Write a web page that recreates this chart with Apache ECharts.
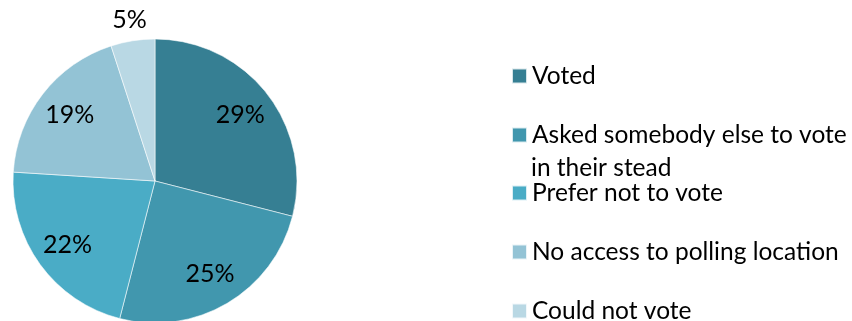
<!DOCTYPE html>
<html>
<head>
<meta charset="utf-8">
<script src="https://cdn.jsdelivr.net/npm/echarts@6/dist/echarts.min.js"></script>
<style>html,body{margin:0;padding:0;background:#fff}#c{width:852px;height:321px}</style>
</head>
<body>
<div id="c"></div>
<script>
const categories = ['Voted', 'Asked somebody else to vote', 'Prefer not to vote', 'No access to polling location', 'Could not vote'];
const values = [29, 25, 22, 19, 5];
const colors = ['#367f93', '#4197ae', '#4aacc6', '#93c3d5', '#b9d8e4'];
const continuationText = 'in their stead';

const FONT = 'Lato';
const chart = echarts.init(document.getElementById('c'), null, {renderer: 'canvas'});
const center = [155, 181];
const R = 142;

const mainData = categories.map((n, i) => ({name: n, value: values[i], itemStyle: {color: colors[i]}}));
const innerLabelData = categories.map((n, i) => ({name: n, value: values[i], label: {show: values[i] >= 10}}));
const outerLabelData = categories.map((n, i) => ({name: n, value: values[i], label: {show: values[i] < 10}}));

const labelStyle = {fontFamily: FONT, fontSize: 25, color: '#000', formatter: p => p.value + '%'};

const legendTops = [63, 122, 180, 239, 298];
const legends = categories.map((n, i) => ({
  orient: 'vertical',
  left: 511,
  top: legendTops[i],
  padding: 0,
  itemWidth: 15,
  itemHeight: 15,
  icon: 'rect',
  selectedMode: false,
  data: [n],
  textStyle: {fontFamily: FONT, fontSize: 24.5, color: '#000', lineHeight: 26}
}));

chart.setOption({
  animation: false,
  legend: legends,
  graphic: [{
    type: 'text',
    left: 531,
    top: 156,
    style: {text: continuationText, font: '24.5px ' + FONT, fill: '#000'}
  }],
  series: [
    {
      type: 'pie', center: center, radius: [0, R], startAngle: 90, clockwise: true,
      label: {show: false}, labelLine: {show: false},
      itemStyle: {borderColor: 'rgba(255,255,255,0.8)', borderWidth: 0.7},
      data: mainData, silent: true
    },
    {
      type: 'pie', center: center, radius: [68, R], startAngle: 90, clockwise: true,
      itemStyle: {color: 'rgba(0,0,0,0)'}, labelLine: {show: false},
      label: Object.assign({position: 'inside'}, labelStyle),
      data: innerLabelData, silent: true, legendHoverLink: false
    },
    {
      type: 'pie', center: center, radius: [R, 178], startAngle: 90, clockwise: true,
      itemStyle: {color: 'rgba(0,0,0,0)'}, labelLine: {show: false},
      label: Object.assign({position: 'inside'}, labelStyle),
      data: outerLabelData, silent: true, legendHoverLink: false
    }
  ]
});
</script>
</body>
</html>
